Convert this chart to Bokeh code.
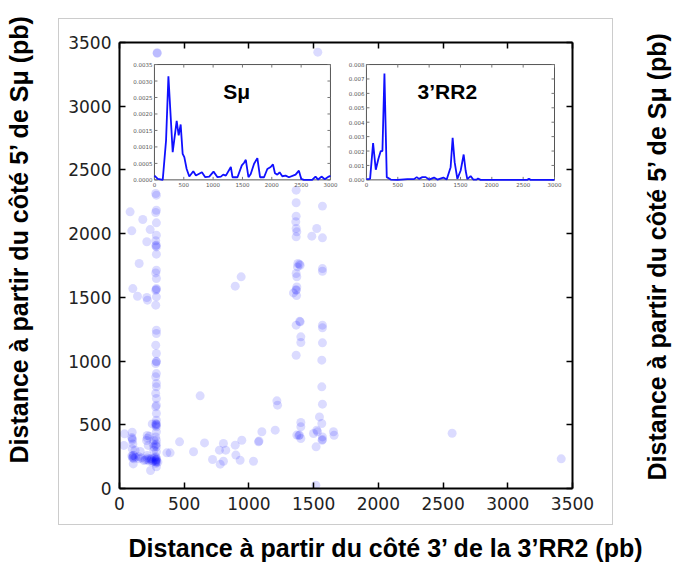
from bokeh.plotting import figure
from bokeh.layouts import row, column
from bokeh.models import (Range1d, LinearAxis, FixedTicker, CustomJSTickFormatter,
                          Title, InlineStyleSheet)
from bokeh.core.properties import value
from bokeh.embed import file_html
from bokeh.resources import INLINE

# ---------------- data ----------------
x_ticks = [0, 500, 1000, 1500, 2000, 2500, 3000, 3500]
y_ticks = [0, 500, 1000, 1500, 2000, 2500, 3000, 3500]

# column near x ~ 285
col1_y = [2315, 2302, 2184, 2166, 2085, 1988, 1944, 1910, 1896, 1905, 1839, 1713, 1692,
          1648, 1569, 1556, 1562, 1504, 1439, 1242, 1216, 1125, 1059, 994, 981, 998, 902,
          876, 824, 798, 746, 706, 654, 641, 589, 536, 510, 505, 500, 495, 484, 445, 405,
          379, 350, 340, 327, 288, 249, 240, 225, 222, 215, 205, 196, 170]
col1_x = [285 if i % 3 else 280 for i in range(len(col1_y))]

other_x = [82, 95, 180, 237, 211, 152, 103, 139, 211, 216,
           39, 34, 98, 98, 103, 98, 103, 111, 106, 124, 150, 189, 214, 209, 222, 214, 235,
           240, 253, 266, 266, 253, 297, 95, 105, 110, 100, 95, 200, 215, 230, 245, 260,
           270, 285, 280, 150, 170, 230, 215, 260, 265, 120, 160, 100, 215, 250,
           894, 940, 623, 1216, 1221, 1203, 1100, 1074, 1078, 945, 894, 803, 772, 821, 657,
           572, 464, 391, 366, 719, 778, 803, 899, 932, 1035,
           1365, 1365, 1365, 1362, 1365, 1370, 1365, 1378, 1375, 1396, 1390, 1365, 1370,
           1370, 1365, 1344, 1368, 1365, 1365, 1396, 1392, 1401, 1401, 1365, 1370, 1391,
           1385, 1401, 1401, 1401,
           1568, 1524, 1486, 1568, 1568, 1568, 1568, 1568, 1568, 1563, 1563, 1568, 1545,
           1563, 1524, 1530, 1568, 1565, 1568, 1499, 1519, 1653, 1658, 1517,
           2570, 3413, 291, 291, 1532]
other_y = [2171, 2022, 2111, 2032, 1936, 1766, 1569, 1509, 1499, 1478,
           429, 338, 442, 390, 350, 311, 259, 233, 193, 246, 233, 220, 416, 377, 338, 259,
           233, 141, 207, 377, 325, 507, 207, 255, 245, 260, 380, 400, 225, 240, 215, 225,
           215, 240, 230, 210, 250, 240, 410, 395, 350, 300, 300, 290, 240, 225, 235,
           1588, 1661, 727, 688, 654, 458, 445, 366, 372, 379, 340, 353, 301, 301, 358,
           288, 366, 280, 280, 228, 191, 214, 262, 222, 214,
           2341, 2242, 2137, 2093, 2040, 2014, 1975, 1766, 1739, 1752, 1760, 1687, 1661,
           1582, 1556, 1535, 1514, 1560, 1282, 1308, 1312, 1190, 1146, 1046, 419, 419,
           415, 518, 484, 392,
           2216, 2040, 1980, 1967, 1726, 1705, 1282, 1261, 1143, 1007, 798, 662, 562,
           510, 458, 445, 384, 378, 405, 432, 327, 445, 418, 26,
           434, 233, 3416, 3420, 3424]

pts_x = col1_x + other_x
pts_y = col1_y + other_y

# density curve, Smu
sm_x = [0, 57, 141, 198, 238, 311, 379, 413, 447, 481, 509, 549, 594, 662, 707, 809, 866,
        934, 1007, 1075, 1132, 1172, 1217, 1302, 1330, 1415, 1489, 1528, 1557, 1602, 1641,
        1698, 1754, 1800, 1868, 1924, 1981, 2020, 2054, 2094, 2133, 2179, 2235, 2292,
        2405, 2462, 2502, 2547, 2688, 2745, 2790, 2847, 2903, 2971, 3000]
sm_y = [0.00013, 0.00003, 0.0, 0.0012, 0.00314, 0.00084, 0.00179, 0.00135, 0.00168,
        0.00079, 0.00069, 0.00033, 0.0001, 0.00026, 0.00013, 0.00023, 0.00008, 0.0001,
        0.00025, 0.00008, 0.0001, 0.00016, 0.00013, 0.00039, 0.00008, 0.00008, 0.00044,
        0.00052, 0.00061, 0.00008, 0.00018, 0.00049, 0.00066, 0.00008, 0.00008, 0.00033,
        0.00039, 0.00047, 0.0002, 0.00016, 0.00023, 0.00011, 0.00013, 0.00008, 0.00016,
        0.00028, 0.00003, 0.0, 0.0, 0.0001, 0.00001, 0.0001, 0.00002, 0.0001, 0.00012]

# density curve, 3'RR2
rr_x = [0, 58, 106, 149, 191, 228, 255, 287, 324, 388, 494, 653, 759, 802, 839, 892,
        945, 998, 1078, 1131, 1227, 1280, 1343, 1375, 1407, 1450, 1503, 1551, 1582, 1609,
        1662, 1704, 1757, 1779, 1821, 2565, 2592, 2618, 3000]
rr_y = [0.00005, 0.00007, 0.00255, 0.0007, 0.00146, 0.002, 0.002, 0.00737, 0.00019, 0.00002,
        0.0, 0.00005, 0.00005, 0.00019, 0.00007, 0.00019, 0.00019, 0.00002, 0.00016, 0.00002,
        0.00016, 0.00002, 0.00088, 0.00292, 0.00123, 0.00007, 0.00065, 0.00176, 0.00065,
        0.00005, 0.00026, 0.00002, 0.00002, 0.0001, 0.0, 0.0, 0.00007, 0.0, 0.0]

inset_x_ticks = [0, 500, 1000, 1500, 2000, 2500, 3000]
sm_y_ticks = [0.0, 0.0005, 0.001, 0.0015, 0.002, 0.0025, 0.003, 0.0035]
rr_y_ticks = [0.0, 0.001, 0.002, 0.003, 0.004, 0.005, 0.006, 0.007, 0.008]

x_label = "Distance à partir du côté 3’ de la 3’RR2 (pb)"
y_label = "Distance à partir du côté 5’ de Sμ (pb)"

# ---------------- layout ----------------
WL, WM, WR = 36, 602, 35          # widths of left label, main, right label panels
HM, HB = 525, 43                  # heights of main row and bottom label
BL, BR, BT, BB = 83, 66, 42, 37   # main figure borders
frame_w = WM - BL - BR
frame_h = HM - BT - BB
px_x = frame_w / 3500.0
px_y = frame_h / 3500.0
TITLE_FONT = "Liberation Sans"


def plain(f):
    f.grid.visible = False
    f.outline_line_color = None
    f.background_fill_color = "white"
    f.border_fill_color = "white"
    return f


p = plain(figure(width=WM, height=HM, x_range=Range1d(0, 3500), y_range=Range1d(0, 3500),
                 output_backend="svg", toolbar_location=None,
                 min_border_left=BL, min_border_right=BR, min_border_top=BT,
                 min_border_bottom=BB))

# light grey outer frame of the original figure
p.stylesheets = [InlineStyleSheet(css="""
:host { position: relative; }
:host::after { content: ''; position: absolute; left: 22px; top: 18px; width: 555px;
  height: 507px; box-sizing: border-box; border: 1px solid #cccccc; pointer-events: none; }
""")]

blank = CustomJSTickFormatter(code="return ''")


def style_axis(ax, ticks, labels=True):
    ax.ticker = FixedTicker(ticks=ticks)
    ax.axis_line_color = "black"
    ax.axis_line_width = 2
    ax.major_tick_in = 6
    ax.major_tick_out = 0
    ax.major_tick_line_width = 1.5
    ax.major_tick_line_color = "black"
    ax.minor_tick_line_color = None
    ax.major_label_text_font = "DejaVu Sans"
    ax.major_label_text_font_size = "17px"
    ax.major_label_text_color = "#222222"
    ax.major_label_standoff = 8
    if not labels:
        ax.formatter = blank
        ax.major_label_text_font_size = "1px"
        ax.major_label_standoff = 0


style_axis(p.xaxis[0], x_ticks)
style_axis(p.yaxis[0], y_ticks)
top_ax = LinearAxis()
style_axis(top_ax, x_ticks, labels=False)
p.add_layout(top_ax, "above")
right_ax = LinearAxis()
style_axis(right_ax, y_ticks, labels=False)
p.add_layout(right_ax, "right")

# scatter
p.scatter(pts_x, pts_y, size=9, fill_color="#0000ff", fill_alpha=0.14, line_color=None)


# insets
def inset(xt, yt, ymax, cx, cy, ticks_y, fmt, title, title_x, title_y):
    sub = p.subplot(x_source=Range1d(0, 3000), y_source=Range1d(0, ymax),
                    x_target=Range1d(*xt), y_target=Range1d(*yt))
    w_px = (xt[1] - xt[0]) * px_x
    h_px = (yt[1] - yt[0]) * px_y
    ux = 3000 / w_px  # data per px
    uy = ymax / h_px
    sub.quad(left=[0], right=[3000], bottom=[0], top=[ymax], fill_color="white",
             line_color="#555555", line_width=1)
    tl = 3
    n = len(inset_x_ticks)
    m = len(ticks_y)
    sub.segment(x0=inset_x_ticks, y0=[0] * n, x1=inset_x_ticks, y1=[tl * uy] * n,
                line_color="#777777", line_width=1)
    sub.segment(x0=inset_x_ticks, y0=[ymax] * n, x1=inset_x_ticks, y1=[ymax - tl * uy] * n,
                line_color="#777777", line_width=1)
    sub.segment(x0=[0] * m, y0=ticks_y, x1=[tl * ux] * m, y1=ticks_y,
                line_color="#777777", line_width=1)
    sub.segment(x0=[3000] * m, y0=ticks_y, x1=[3000 - tl * ux] * m, y1=ticks_y,
                line_color="#777777", line_width=1)
    sub.line(cx, cy, line_color="#1010ff", line_width=1.8)
    sub.text(x=inset_x_ticks, y=[0] * n, text=[str(t) for t in inset_x_ticks],
             text_align="center", text_baseline="top", y_offset=2,
             text_font=value("DejaVu Sans"), text_font_size="5.5px", text_color="#555555")
    sub.text(x=[0] * m, y=ticks_y, text=[fmt.format(t) for t in ticks_y],
             text_align="right", text_baseline="middle", x_offset=-2,
             text_font=value("DejaVu Sans"), text_font_size="5.5px", text_color="#555555")
    sub.text(x=[title_x], y=[title_y], text=[title], text_align="center",
             text_baseline="alphabetic", text_font=value(TITLE_FONT),
             text_font_style="bold", text_font_size="21px", text_color="black")


inset((270, 1630), (2422, 3327), 0.0035, sm_x, sm_y, sm_y_ticks, "{:.4f}", "Sμ", 1400, 0.00267)
inset((1908, 3361), (2422, 3327), 0.008, rr_x, rr_y, rr_y_ticks, "{:.3f}", "3’RR2", 1290, 0.0061)

# ---------------- axis titles (in small side figures) ----------------
tkw = dict(text_font=TITLE_FONT, text_font_style="bold", text_font_size="25px",
           text_color="black", align="left", standoff=0)


def label_fig(width, height, borders):
    return plain(figure(width=width, height=height, output_backend="svg",
                        toolbar_location=None, x_axis_location=None, y_axis_location=None,
                        **borders))


f_left = label_fig(WL, HM, dict(min_border_left=WL - 2, min_border_right=0,
                                min_border_top=BT, min_border_bottom=BB))
f_left.add_layout(Title(text=y_label, offset=25, vertical_align="top", **tkw), "left")

f_right = label_fig(WR, HM, dict(min_border_left=WR - 3, min_border_right=0,
                                 min_border_top=BT, min_border_bottom=BB))
f_right.add_layout(Title(text=y_label, offset=8, vertical_align="bottom", **tkw), "left")

f_bottom = label_fig(WL + WM + WR, HB, dict(min_border_left=WL + BL, min_border_right=0,
                                           min_border_top=HB - 7, min_border_bottom=0))
f_bottom.add_layout(Title(text=x_label, offset=9, vertical_align="bottom", **tkw), "above")

layout = column(row(f_left, p, f_right, spacing=0), f_bottom, spacing=0)

open("out.html", "w").write(file_html(layout, INLINE))
